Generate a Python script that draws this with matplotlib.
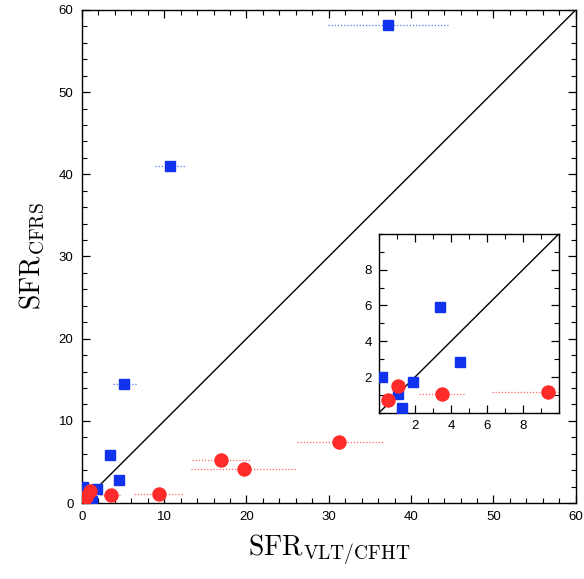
import matplotlib
matplotlib.use("Agg")
import matplotlib.pyplot as plt
from matplotlib.ticker import MultipleLocator, FixedLocator

plt.rcParams['mathtext.fontset'] = 'cm'
plt.rcParams['font.family'] = ['Liberation Sans', 'DejaVu Sans']

# Blue squares (x, y, xerr low, xerr high)
blue_x = [37.2, 10.7, 5.1, 3.4, 4.5, 0.15, 1.9, 1.05, 1.3]
blue_y = [58.2, 41.0, 14.5, 5.9, 2.85, 2.0, 1.7, 1.05, 0.25]
blue_xlo = [29.9, 8.9, 3.8, 3.2, 4.5, 0.15, 1.9, 1.05, 1.3]
blue_xhi = [44.6, 12.6, 6.7, 3.6, 4.5, 0.15, 1.9, 1.05, 1.3]

# Red circles
red_x = [31.2, 19.7, 16.9, 9.4, 3.5, 1.05, 0.5]
red_y = [7.45, 4.15, 5.2, 1.15, 1.05, 1.5, 0.7]
red_xlo = [26.1, 13.3, 13.4, 6.3, 2.2, 1.05, 0.5]
red_xhi = [36.6, 26.1, 20.5, 12.4, 4.8, 1.05, 0.5]

BLUE = '#1233ee'
RED = '#ff2a2a'
BLUE_E = '#5577ee'
RED_E = '#ff6666'


def draw(ax, ms_sq, ms_ci):
    for x, y, lo, hi in zip(red_x, red_y, red_xlo, red_xhi):
        if hi > lo:
            ax.plot([lo, hi], [y, y], ls=(0, (1, 1.5)), color=RED_E, lw=0.9, zorder=2)
    for x, y, lo, hi in zip(blue_x, blue_y, blue_xlo, blue_xhi):
        if hi > lo:
            ax.plot([lo, hi], [y, y], ls=(0, (1, 1.5)), color=BLUE_E, lw=0.9, zorder=2)
    ax.plot(blue_x, blue_y, 's', color=BLUE, ms=ms_sq, mec=BLUE, zorder=3, clip_on=True)
    ax.plot(red_x, red_y, 'o', color=RED, ms=ms_ci, mec=RED, zorder=4, clip_on=True)


fig = plt.figure(figsize=(5.84, 5.79), dpi=100)
ax = fig.add_axes([0.140, 0.131, 0.846, 0.852])
ax.plot([0, 60], [0, 60], color='black', lw=1.0, zorder=1)
draw(ax, 7.2, 9.4)
ax.set_xlim(0, 60)
ax.set_ylim(0, 60)
ax.xaxis.set_major_locator(MultipleLocator(10))
ax.yaxis.set_major_locator(MultipleLocator(10))
ax.xaxis.set_minor_locator(MultipleLocator(2))
ax.yaxis.set_minor_locator(MultipleLocator(2))
ax.tick_params(which='both', direction='in', top=True, right=True, labelsize=9.5, pad=6)
ax.tick_params(which='major', length=6, width=0.9)
ax.tick_params(which='minor', length=3.5, width=0.8)
for s in ax.spines.values():
    s.set_linewidth(1.0)
ax.set_xlabel(r'$\mathrm{SFR}_{\mathrm{VLT/CFHT}}$', fontsize=20, labelpad=6)
ax.set_ylabel(r'$\mathrm{SFR}_{\mathrm{CFRS}}$', fontsize=20, labelpad=8)

ins = fig.add_axes([0.649, 0.287, 0.308, 0.309])
ins.plot([0, 10], [0, 10], color='black', lw=1.0, zorder=1)
draw(ins, 7.2, 9.4)
ins.set_xlim(0, 10)
ins.set_ylim(0, 10)
ins.xaxis.set_major_locator(FixedLocator([2, 4, 6, 8]))
ins.yaxis.set_major_locator(FixedLocator([2, 4, 6, 8]))
ins.xaxis.set_minor_locator(MultipleLocator(1))
ins.yaxis.set_minor_locator(MultipleLocator(1))
ins.tick_params(which='both', direction='in', top=True, right=True, labelsize=9.5, pad=5)
ins.tick_params(which='major', length=6, width=0.9)
ins.tick_params(which='minor', length=3.5, width=0.8)
for s in ins.spines.values():
    s.set_linewidth(1.0)

fig.savefig('out.png', dpi=100)
